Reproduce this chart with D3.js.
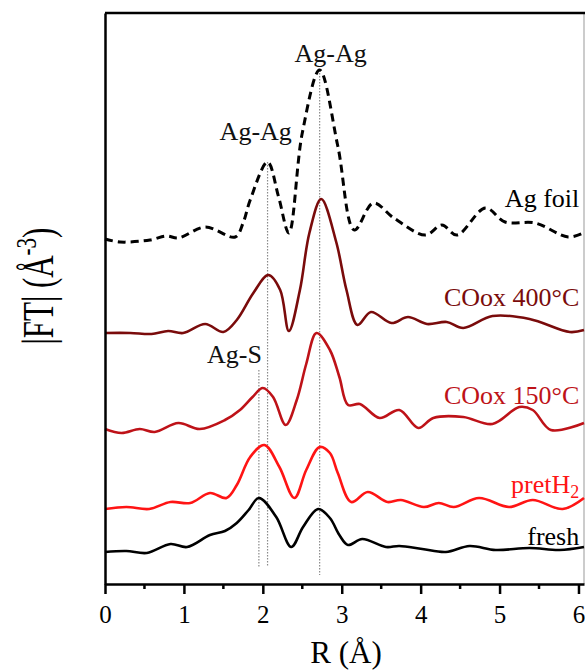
<!DOCTYPE html>
<html>
<head>
<meta charset="utf-8">
<script src="https://cdn.jsdelivr.net/npm/d3@7"></script>
<style>
  html, body { margin: 0; padding: 0; background: #fff; }
</style>
</head>
<body>
<svg id="chart" width="585" height="671"></svg>
<script>
// |FT| of the k-weighted EXAFS, spectra stacked with vertical offsets (arb. units)
const rFoil   = [0, 0.19, 0.57, 0.78, 0.93, 1.27, 1.65, 1.75, 1.84, 2.06, 2.20, 2.33, 2.50, 2.72, 2.95, 3.16, 3.40, 3.66, 4.06, 4.27, 4.46, 4.82, 5.07, 5.45, 5.87, 6.06];
const agFoil  = [3.45, 3.42, 3.44, 3.48, 3.46, 3.57, 3.47, 3.61, 3.84, 4.22, 3.87, 3.51, 4.51, 5.14, 4.38, 3.54, 3.81, 3.66, 3.49, 3.59, 3.49, 3.76, 3.62, 3.61, 3.47, 3.51];

const r400    = [0, 0.32, 0.59, 0.80, 0.99, 1.27, 1.50, 1.67, 1.88, 2.07, 2.22, 2.33, 2.47, 2.59, 2.74, 2.93, 3.06, 3.20, 3.37, 3.63, 3.84, 4.08, 4.33, 4.54, 4.91, 5.38, 5.89, 6.07];
const coox400 = [2.51, 2.51, 2.50, 2.53, 2.51, 2.60, 2.52, 2.64, 2.91, 3.09, 2.94, 2.53, 2.94, 3.51, 3.85, 3.42, 2.94, 2.59, 2.72, 2.61, 2.67, 2.60, 2.62, 2.56, 2.68, 2.65, 2.52, 2.54];

const r150    = [0, 0.21, 0.44, 0.63, 0.93, 1.20, 1.52, 1.71, 1.87, 2.00, 2.13, 2.29, 2.43, 2.55, 2.68, 2.85, 2.97, 3.08, 3.23, 3.48, 3.73, 3.97, 4.16, 4.54, 4.91, 5.25, 5.42, 5.65, 6.07];
const coox150 = [1.55, 1.51, 1.55, 1.52, 1.61, 1.55, 1.64, 1.74, 1.87, 1.96, 1.87, 1.59, 1.84, 2.20, 2.51, 2.34, 2.07, 1.79, 1.80, 1.66, 1.74, 1.56, 1.66, 1.67, 1.60, 1.77, 1.74, 1.54, 1.61];

const rPret   = [0, 0.27, 0.56, 0.83, 1.08, 1.33, 1.54, 1.67, 1.84, 2.02, 2.21, 2.40, 2.55, 2.72, 2.85, 2.95, 3.12, 3.33, 3.58, 3.75, 4.04, 4.23, 4.42, 4.74, 5.12, 5.42, 5.80, 6.07];
const pretH2  = [0.75, 0.77, 0.75, 0.82, 0.81, 0.91, 0.86, 0.99, 1.27, 1.39, 1.17, 0.86, 1.14, 1.37, 1.31, 1.11, 0.82, 0.92, 0.82, 0.84, 0.77, 0.81, 0.77, 0.86, 0.77, 0.84, 0.75, 0.86];

const rFresh  = [0, 0.27, 0.53, 0.83, 1.04, 1.33, 1.52, 1.67, 1.82, 1.95, 2.17, 2.36, 2.51, 2.70, 2.85, 2.97, 3.08, 3.26, 3.56, 3.73, 4.02, 4.32, 4.62, 4.95, 5.38, 5.76, 6.07];
const fresh   = [0.32, 0.33, 0.31, 0.40, 0.37, 0.49, 0.53, 0.61, 0.74, 0.86, 0.67, 0.37, 0.57, 0.75, 0.66, 0.49, 0.39, 0.45, 0.37, 0.38, 0.35, 0.32, 0.38, 0.34, 0.36, 0.34, 0.37];

const seriesNames  = ["Ag foil", "COox 400°C", "COox 150°C", "pretH2", "fresh"];
const seriesColors = ["#000000", "#7a0b0b", "#be1218", "#ff1414", "#000000"];
const labelLevels  = [3.77, 2.78, 1.80, 0.91, 0.39];

// bond distances marked with dotted guides
const guideR      = [1.95, 2.06, 2.72];
const guideTop    = [2.14, 4.22, 5.14];
const guideBottom = [0.17, 0.17, 0.09];

// peak assignments
const peakText  = ["Ag-Ag", "Ag-Ag", "Ag-S"];
const peakR     = [2.86, 1.91, 1.64];
const peakLevel = [5.22, 4.44, 2.21];

const xTicks = [0, 1, 2, 3, 4, 5, 6];
const xMinor = [0.5, 1.5, 2.5, 3.5, 4.5, 5.5];

const FONT = "'Liberation Serif', 'Times New Roman', Times, serif";

const svg = d3.select("#chart");
const W = 585, H = 671;
const m = { left: 105, right: 1, top: 13, bottom: 87 };

const x = d3.scaleLinear().domain([0, 6.07]).range([m.left, W - m.right]);
const y = d3.scaleLinear().domain([0, 5.71]).range([H - m.bottom, m.top]);

svg.append("rect").attr("width", W).attr("height", H).attr("fill", "#fff");

// thin right border and heavy top border of the frame
svg.append("line")
  .attr("x1", x.range()[1]).attr("x2", x.range()[1])
  .attr("y1", y.range()[1]).attr("y2", y.range()[0])
  .attr("stroke", "#999").attr("stroke-width", 1);
svg.append("line")
  .attr("x1", x.range()[0]).attr("x2", W)
  .attr("y1", y.range()[1]).attr("y2", y.range()[1])
  .attr("stroke", "#000").attr("stroke-width", 2.5);

// dotted guides
guideR.forEach((r, i) => {
  svg.append("line")
    .attr("x1", x(r)).attr("x2", x(r))
    .attr("y1", y(guideTop[i])).attr("y2", y(guideBottom[i]))
    .attr("stroke", "#8a8a8a").attr("stroke-width", 1.2)
    .attr("stroke-dasharray", "1.5,1.5");
});

// spectra
const spectra = [
  { r: rFoil, v: agFoil, dash: "8,5", width: 3 },
  { r: r400, v: coox400, dash: null, width: 2.6 },
  { r: r150, v: coox150, dash: null, width: 2.6 },
  { r: rPret, v: pretH2, dash: null, width: 2.6 },
  { r: rFresh, v: fresh, dash: null, width: 2.6 }
];
const line = d3.line()
  .x(d => x(d[0]))
  .y(d => y(d[1]))
  .curve(d3.curveCatmullRom.alpha(0.5));

spectra.forEach((s, i) => {
  const pts = s.r.map((r, j) => [r, s.v[j]]);
  svg.append("path")
    .attr("d", line(pts))
    .attr("fill", "none")
    .attr("stroke", seriesColors[i])
    .attr("stroke-width", s.width)
    .attr("stroke-linejoin", "round")
    .attr("stroke-dasharray", s.dash);
});

// series labels at the right
seriesNames.forEach((name, i) => {
  const t = svg.append("text")
    .attr("x", x(6.01)).attr("y", y(labelLevels[i]))
    .attr("text-anchor", "end")
    .style("font-family", FONT)
    .style("font-size", "26px")
    .attr("fill", seriesColors[i]);
  if (name === "pretH2") {
    t.append("tspan").text("pretH");
    t.append("tspan").style("font-size", "18px").attr("dy", 5).text("2");
  } else {
    t.text(name);
  }
});

// peak assignments
peakText.forEach((txt, i) => {
  svg.append("text")
    .attr("x", x(peakR[i])).attr("y", y(peakLevel[i]))
    .attr("text-anchor", "middle")
    .style("font-family", FONT)
    .style("font-size", "26px")
    .attr("fill", "#111")
    .text(txt);
});

// axes
const xAxis = svg.append("g")
  .attr("transform", `translate(0,${y.range()[0]})`)
  .call(d3.axisBottom(x).tickValues(xTicks).tickFormat(d3.format("d"))
    .tickSize(10).tickSizeOuter(0).tickPadding(11));
xAxis.selectAll("text")
  .style("font-family", FONT).style("font-size", "25px").attr("fill", "#000");
xAxis.select(".domain").attr("stroke-width", 2.5);
xAxis.selectAll(".tick line").attr("stroke-width", 2.5);

svg.append("g")
  .attr("transform", `translate(0,${y.range()[0]})`)
  .selectAll("line").data(xMinor).join("line")
  .attr("x1", d => x(d)).attr("x2", d => x(d))
  .attr("y1", 0).attr("y2", 5)
  .attr("stroke", "#000").attr("stroke-width", 2.5);

const yAxis = svg.append("g")
  .attr("transform", `translate(${x.range()[0]},0)`)
  .call(d3.axisLeft(y).tickValues([]).tickSizeOuter(0));
yAxis.select(".domain").attr("stroke-width", 2.5);

// axis titles
svg.append("text")
  .attr("x", 346).attr("y", 663)
  .attr("text-anchor", "middle")
  .style("font-family", FONT)
  .style("font-size", "31px")
  .text("R (Å)");

const yTitle = svg.append("text")
  .attr("transform", "translate(53,286) rotate(-90) scale(1,1.45)")
  .attr("text-anchor", "middle")
  .style("font-family", FONT)
  .style("font-size", "31px");
yTitle.append("tspan").text("|FT| (Å");
yTitle.append("tspan").style("font-size", "21px").attr("dy", -12).text("-3");
yTitle.append("tspan").attr("dy", 12).text(")");
</script>
</body>
</html>
